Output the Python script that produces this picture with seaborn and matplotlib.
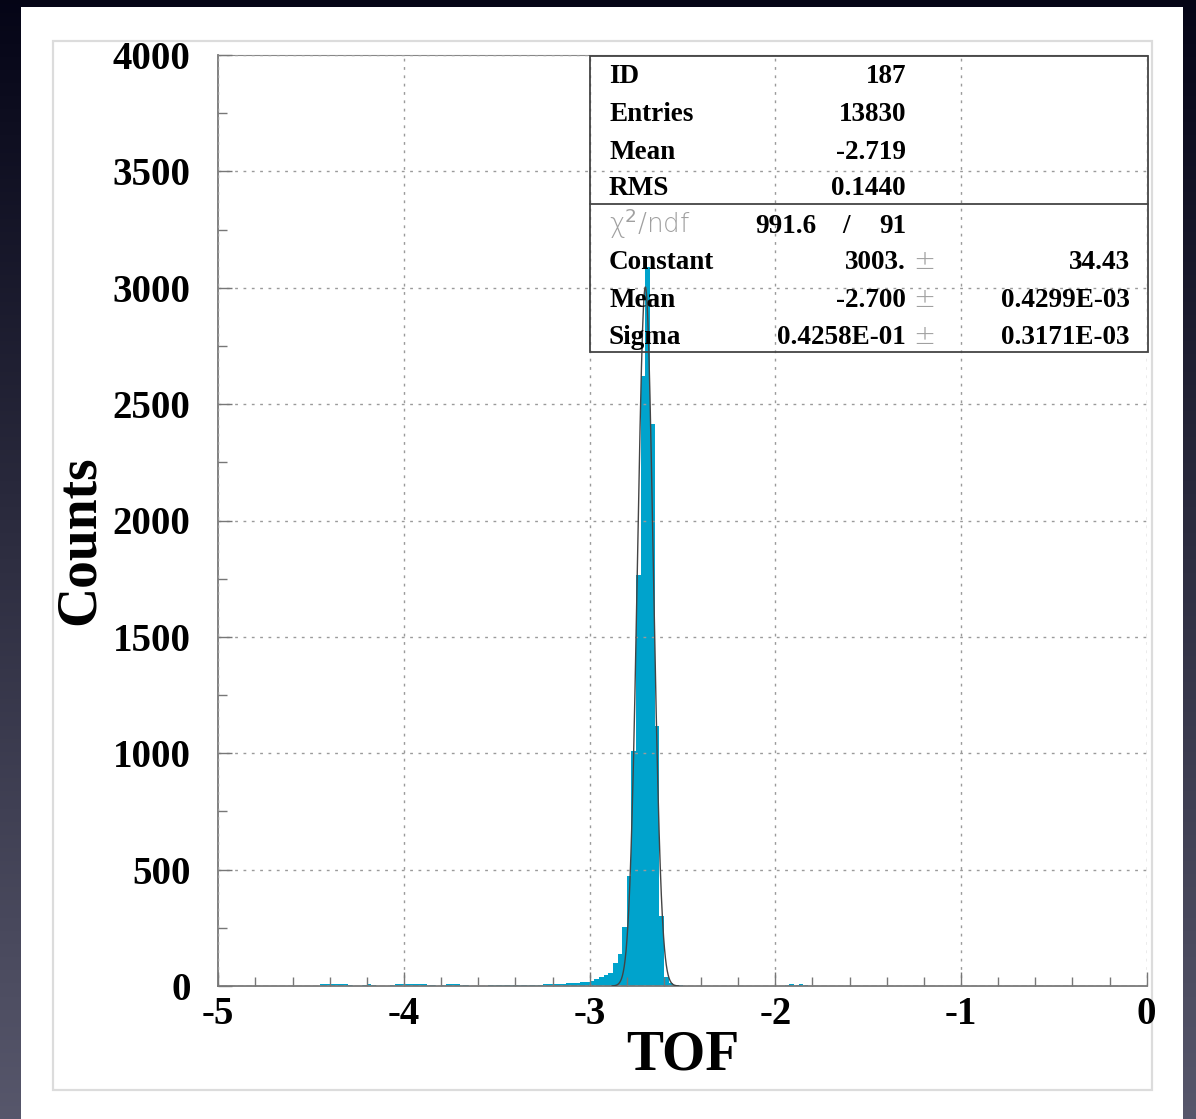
import numpy as np
import pandas as pd
import matplotlib
matplotlib.use("Agg")
import matplotlib.pyplot as plt
from matplotlib.patches import Rectangle
from matplotlib.ticker import MultipleLocator, FixedLocator, FixedFormatter
import seaborn as sns

# ---- histogram booking: 200 bins of 0.025 on [-5, 0] ----
hist_lo = -5.0
hist_hi = 0.0
n_bins = 200

# non-empty bins: bin index and contents
bin_index = [22, 23, 24, 25, 26, 27, 28,
             31, 32, 33,
             37, 38, 39, 40, 41, 42, 43, 44, 45, 46,
             48, 49, 50, 51, 52, 53,
             58, 59, 60, 61,
             62, 63, 64, 65, 66, 67, 68, 69, 70, 71, 72, 73, 74, 75,
             76, 77, 78, 79, 80, 81, 82, 83, 84, 85, 86, 87, 88, 89,
             90, 91, 92, 93, 94, 95, 96, 97, 98, 99,
             122, 123, 124, 125, 126]
bin_counts = [8, 9, 9, 9, 8, 7, 5,
              5, 7, 5,
              5, 7, 8, 8, 9, 8, 8, 7, 6, 5,
              6, 8, 8, 7, 6, 5,
              4, 5, 5, 4,
              4, 5, 5, 5, 6, 6, 6, 6, 7, 7, 8, 9, 10, 11,
              12, 14, 16, 19, 23, 30, 40, 48, 57, 100, 136, 255, 472, 1010,
              1765, 2620, 3090, 2414, 1117, 300, 38, 12, 6, 3,
              6, 8, 6, 8, 6]

# statistics box
stat_labels = ["ID", "Entries", "Mean", "RMS"]
stat_values = ["187", "13830", "-2.719", "0.1440"]
chi2_value = "991.6"
ndf_value = "91"
fit_labels = ["Constant", "Mean", "Sigma"]
fit_values = ["3003.", "-2.700", "0.4258E-01"]
fit_errors = ["34.43", "0.4299E-03", "0.3171E-03"]

# gaussian fit parameters
fit_constant = 3003.0
fit_mean = -2.700
fit_sigma = 0.04258
fit_range = (-2.88, -2.52)

x_ticks = [-5, -4, -3, -2, -1, 0]
x_tick_labels = ["-5", "-4", "-3", "-2", "-1", "0"]
y_ticks = [0, 500, 1000, 1500, 2000, 2500, 3000, 3500, 4000]
y_tick_labels = ["0", "500", "1000", "1500", "2000", "2500", "3000", "3500", "4000"]

# ---- styling ----
sns.set_theme(style="white")
plt.rcParams["font.family"] = ["Liberation Serif", "DejaVu Serif"]
plt.rcParams["mathtext.fontset"] = "dejavusans"

W, H = 1196, 1119
fig = plt.figure(figsize=(W / 100, H / 100), dpi=100)

# dark vignette behind the white sheet
bg = fig.add_axes([0, 0, 1, 1], zorder=-10)
grad = np.linspace(0, 1, 256)[:, None]
c_top = np.array([0.02, 0.02, 0.09])
c_bot = np.array([0.34, 0.34, 0.42])
img = c_top[None, None, :] * (1 - grad[..., None]) + c_bot[None, None, :] * grad[..., None]
img = np.repeat(img, 4, axis=1)
bg.imshow(img, aspect="auto", extent=[0, W, H, 0])
bg.add_patch(Rectangle((20.7, 6.7), 1182.7 - 20.7, H - 6.7, facecolor="white",
                       edgecolor="none"))
bg.add_patch(Rectangle((52.7, 41), 1151.7 - 52.7, 1090 - 41, facecolor="none",
                       edgecolor="#dcdcdc", lw=1.6))
bg.set_xlim(0, W)
bg.set_ylim(H, 0)
bg.axis("off")

# ---- main axes ----
ax_l, ax_r, ax_t, ax_b = 218.3, 1146.7, 55.0, 986.0
ax = fig.add_axes([ax_l / W, (H - ax_b) / H, (ax_r - ax_l) / W, (ax_b - ax_t) / H])
ax.patch.set_alpha(0)

width = (hist_hi - hist_lo) / n_bins
centres = hist_lo + (np.array(bin_index) + 0.5) * width
df = pd.DataFrame({"TOF": centres, "Counts": bin_counts})
sns.histplot(data=df, x="TOF", weights="Counts", bins=n_bins,
             binrange=(hist_lo, hist_hi), element="step",
             fill=True, color="#00a3cc", alpha=1.0, linewidth=0, ax=ax)

xf = np.linspace(fit_range[0], fit_range[1], 300)
fit_df = pd.DataFrame({"TOF": xf,
                       "Counts": fit_constant * np.exp(-0.5 * ((xf - fit_mean) / fit_sigma) ** 2)})
sns.lineplot(data=fit_df, x="TOF", y="Counts", color="#444444", lw=1.0, ax=ax, zorder=3)

ax.set_xlim(hist_lo, hist_hi)
ax.set_ylim(0, 4000)
ax.set_axisbelow(False)

ax.xaxis.set_major_locator(FixedLocator(x_ticks))
ax.xaxis.set_major_formatter(FixedFormatter(x_tick_labels))
ax.xaxis.set_minor_locator(MultipleLocator(0.2))
ax.yaxis.set_major_locator(FixedLocator(y_ticks))
ax.yaxis.set_major_formatter(FixedFormatter(y_tick_labels))
ax.yaxis.set_minor_locator(MultipleLocator(250))

for lab in ax.get_xticklabels() + ax.get_yticklabels():
    lab.set_fontsize(28)
    lab.set_fontweight("bold")
    lab.set_color("black")

ax.tick_params(axis="both", which="major", direction="in", length=10, width=1.0,
               color="#777777")
ax.tick_params(axis="both", which="minor", direction="in", length=6.5, width=1.0,
               color="#777777")
ax.tick_params(axis="x", which="major", pad=7)
ax.tick_params(axis="y", which="major", pad=20)
ax.tick_params(bottom=True, left=True, which="both")

ax.grid(True, which="major", color="#9a9a9a", linestyle=(0, (2, 4)), lw=1.0)

for side in ["left", "bottom"]:
    ax.spines[side].set_color("#777777")
    ax.spines[side].set_linewidth(1.3)
ax.spines["top"].set_color("#888888")
ax.spines["top"].set_linewidth(0.8)
ax.spines["right"].set_visible(False)

ax.set_xlabel("TOF", fontsize=40, fontweight="bold", color="black")
ax.set_ylabel("Counts", fontsize=40, fontweight="bold", color="black")
ax.xaxis.label.set_va("center")
ax.yaxis.label.set_va("center")
ax.xaxis.set_label_coords((683 - ax_l) / (ax_r - ax_l), (ax_b - 1055) / (ax_b - ax_t))
ax.yaxis.set_label_coords((80 - ax_l) / (ax_r - ax_l), (ax_b - 540) / (ax_b - ax_t))


# ---- statistics / fit box ----
def fx(px):
    return (px - ax_l) / (ax_r - ax_l)


def fy(py):
    return (ax_b - py) / (ax_b - ax_t)


tr = ax.transAxes
box = Rectangle((fx(590), fy(352)), fx(1148) - fx(590), fy(56) - fy(352),
                transform=tr, facecolor="none", edgecolor="#444444", lw=1.3,
                clip_on=False, zorder=5)
ax.add_patch(box)
ax.plot([fx(590), fx(1148)], [fy(204), fy(204)], transform=tr, color="#444444",
        lw=1.3, clip_on=False, zorder=5)

txt = dict(fontsize=19.5, fontweight="bold", color="black", transform=tr,
           va="baseline", zorder=6)
light = dict(fontsize=19, color="#a0a0a0", transform=tr, va="baseline", zorder=6,
             family=["DejaVu Sans"], fontweight="light")

stat_base = [83.3, 121, 159, 195]
for lab, val, yb in zip(stat_labels, stat_values, stat_base):
    ax.text(fx(609), fy(yb), lab, ha="left", **txt)
    ax.text(fx(906), fy(yb), val, ha="right", **txt)

chi_base = 232.7
ax.text(fx(609), fy(chi_base), "\u03c7$^{2}$/ndf", ha="left", **light)
ax.text(fx(816), fy(chi_base), chi2_value, ha="right", **txt)
ax.text(fx(846), fy(chi_base), "/", ha="center", **txt)
ax.text(fx(906), fy(chi_base), ndf_value, ha="right", **txt)

fit_base = [269.3, 306.7, 344]
for lab, val, err, yb in zip(fit_labels, fit_values, fit_errors, fit_base):
    ax.text(fx(609), fy(yb), lab, ha="left", **txt)
    ax.text(fx(906), fy(yb), val, ha="right", **txt)
    ax.text(fx(924), fy(yb), "\u00b1", ha="center", **light)
    ax.text(fx(1130), fy(yb), err, ha="right", **txt)

fig.savefig("out.png", dpi=100, facecolor=fig.get_facecolor())
